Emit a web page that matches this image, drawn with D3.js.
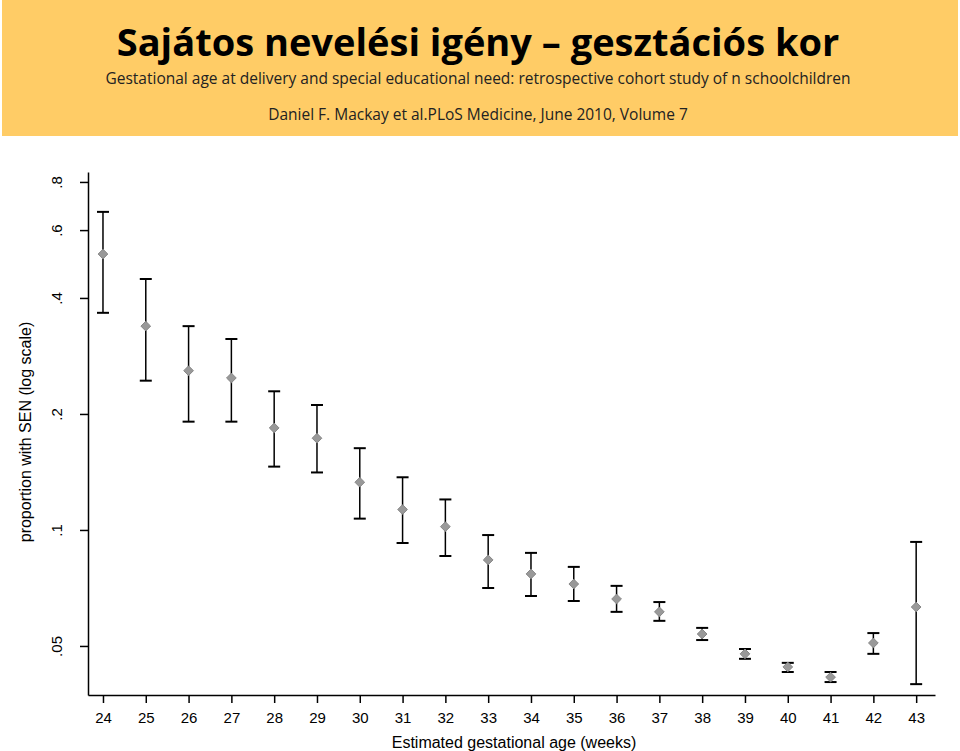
<!DOCTYPE html><html><head><meta charset="utf-8">
<script src="https://cdn.jsdelivr.net/npm/d3@7"></script>
<style>body{margin:0;background:#fff}</style></head><body>
<svg id="c" width="960" height="751"></svg>
<script>
const weeks=[24,25,26,27,28,29,30,31,32,33,34,35,36,37,38,39,40,41,42,43];
const prop=[0.52,0.338,0.259,0.248,0.184,0.173,0.133,0.113,0.102,0.0836,0.0769,0.0724,0.0662,0.0613,0.0537,0.0477,0.0441,0.0415,0.0509,0.0631];
const upper=[0.669,0.448,0.338,0.313,0.229,0.211,0.163,0.137,0.120,0.097,0.0872,0.0802,0.0716,0.065,0.0557,0.0491,0.0452,0.0428,0.054,0.0931];
const lower=[0.366,0.244,0.191,0.191,0.146,0.141,0.107,0.0925,0.0856,0.0707,0.0674,0.0654,0.0613,0.0581,0.0518,0.0463,0.0428,0.0403,0.0477,0.0398];
const yTicks=[0.05,0.1,0.2,0.4,0.6,0.8];
const yLabels=[".05",".1",".2",".4",".6",".8"];
const svg=d3.select("#c");
svg.append("rect").attr("x",2).attr("y",0).attr("width",956).attr("height",136).attr("fill","#FFCC66");
svg.append("text").attr("x",478).attr("y",56).attr("text-anchor","middle").attr("font-family","Open Sans, sans-serif").attr("font-weight","bold").attr("font-size",38).attr("fill","#000").text("Sajátos nevelési igény – gesztációs kor");
svg.append("text").attr("x",478).attr("y",84).attr("text-anchor","middle").attr("font-family","Open Sans, sans-serif").attr("font-size",15.5).attr("fill","#222").text("Gestational age at delivery and special educational need: retrospective cohort study of n schoolchildren");
svg.append("text").attr("x",478).attr("y",120).attr("text-anchor","middle").attr("font-family","Open Sans, sans-serif").attr("font-size",15.5).attr("fill","#222").text("Daniel F. Mackay et al.PLoS Medicine, June 2010, Volume 7");
const x=d3.scaleLinear().domain([23.65,43.44]).range([88,935]);
const y=d3.scaleLog().domain([0.0373,0.849]).range([695,172]);
const g=svg.append("g");
g.append("g").attr("transform","translate(88,0)").call(d3.axisLeft(y).tickValues(yTicks).tickFormat((d,i)=>yLabels[i]).tickSize(8).tickSizeOuter(0))
 .call(a=>{a.select(".domain").attr("stroke-width",1.5);a.selectAll("line").attr("stroke-width",1.5);
  a.selectAll("text").attr("font-family","Liberation Sans, Arial").attr("font-size",15).attr("transform",d=>`translate(-20,${0}) rotate(-90,${-11},0)`).attr("text-anchor","middle").attr("x",-11).attr("dy","0.35em");});
g.append("g").attr("transform","translate(0,695)").call(d3.axisBottom(x).tickValues(weeks).tickFormat(d3.format("d")).tickSize(8).tickSizeOuter(0))
 .call(a=>{a.select(".domain").attr("stroke-width",1.5);a.selectAll("line").attr("stroke-width",1.5);
  a.selectAll("text").attr("font-family","Liberation Sans, Arial").attr("font-size",15).attr("dy","1.1em");});
svg.append("text").attr("x",514).attr("y",748).attr("text-anchor","middle").attr("font-family","Liberation Sans, Arial").attr("font-size",16).text("Estimated gestational age (weeks)");
svg.append("text").attr("transform","translate(31,432) rotate(-90)").attr("text-anchor","middle").attr("font-family","Liberation Sans, Arial").attr("font-size",16).text("proportion with SEN (log scale)");
const pts=svg.append("g");
weeks.forEach((w,i)=>{
 const cx=x(w);
 pts.append("line").attr("x1",cx).attr("x2",cx).attr("y1",y(lower[i])).attr("y2",y(upper[i])).attr("stroke","#000").attr("stroke-width",1.5);
 [lower[i],upper[i]].forEach(v=>pts.append("line").attr("x1",cx-6).attr("x2",cx+6).attr("y1",y(v)).attr("y2",y(v)).attr("stroke","#000").attr("stroke-width",2));
 pts.append("path").attr("d",d3.symbol(d3.symbolDiamond2,60)()).attr("transform",`translate(${cx},${y(prop[i])})`).attr("fill","#999").attr("stroke","#888");
});
</script></body></html>
